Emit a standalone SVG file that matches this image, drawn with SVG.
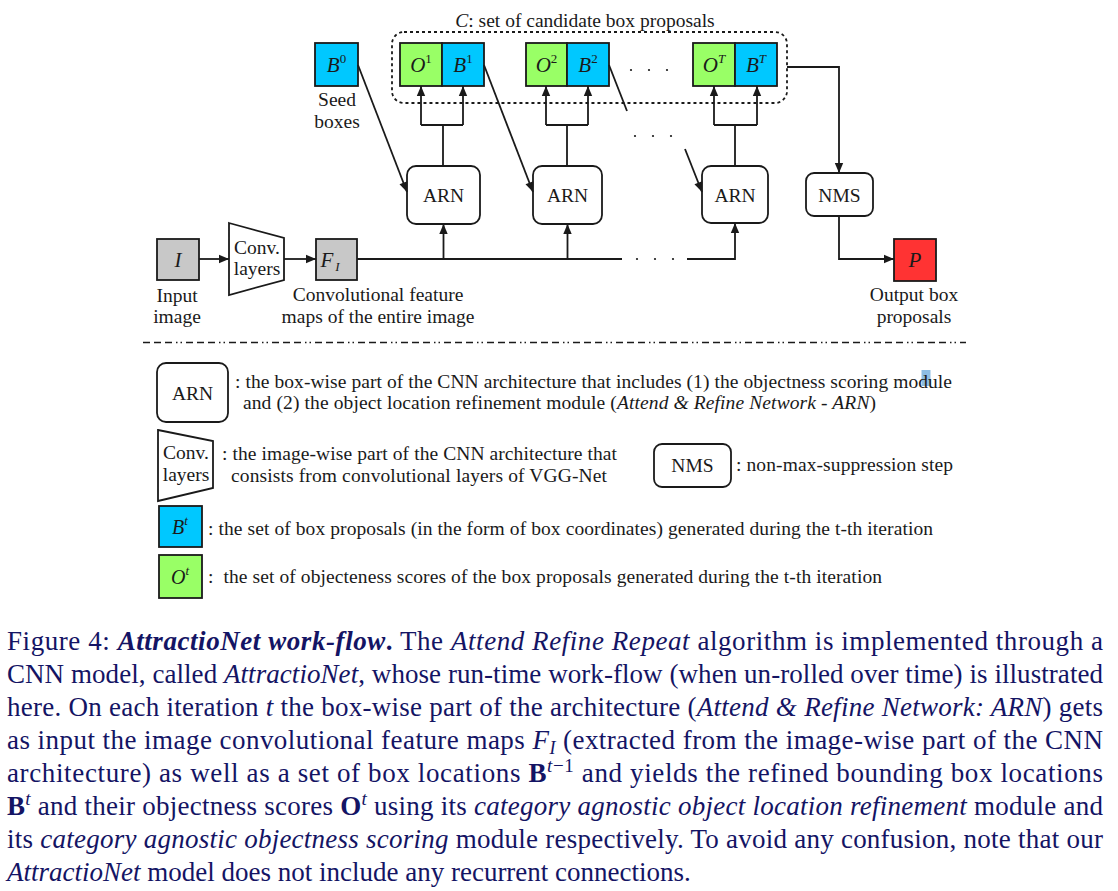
<svg xmlns="http://www.w3.org/2000/svg" width="1118" height="891" viewBox="0 0 1118 891">
<style>
text{font-family:"Liberation Serif","Times New Roman",serif;fill:#1a1a1a}
.lbl{font-size:19.5px}
.c{text-anchor:middle}
.it{font-style:italic}
.box{stroke:#1a1a1a;stroke-width:1.8}
.blue{fill:#00c8ff}
.green{fill:#99ff66}
.gray{fill:#c8c8c8}
.red{fill:#ff3333}
.wh{fill:#ffffff}
.ln{fill:none;stroke:#1a1a1a;stroke-width:1.8}
.cap{font-size:27px;fill:#141464}
.sup{font-size:13px}
</style>
<defs>
<marker id="ah" viewBox="0 0 10 10" refX="10" refY="5" markerWidth="11" markerHeight="10" orient="auto" markerUnits="userSpaceOnUse">
<path d="M0,0.8 L10,5 L0,9.2 z" fill="#1a1a1a"/>
</marker>
</defs>
<rect width="1118" height="891" fill="#ffffff"/>

<g id="candidates">
<rect x="392" y="32" width="395" height="71" rx="12" fill="none" stroke="#1a1a1a" stroke-width="1.8" stroke-dasharray="3 3"/>
<text class="lbl c" x="585" y="27"><tspan class="it">C</tspan>: set of candidate box proposals</text>
</g>

<g id="seed">
<rect class="box blue" x="315" y="43" width="43" height="43"/>
<text class="c" x="336.5" y="72" font-size="21"><tspan class="it">B</tspan><tspan class="sup" dy="-9">0</tspan></text>
<text class="lbl c" x="337" y="106">Seed</text>
<text class="lbl c" x="337" y="128">boxes</text>
</g>

<g id="ob1">
<rect class="box green" x="400" y="43" width="42" height="43"/>
<rect class="box blue" x="442" y="43" width="42" height="43"/>
<text class="c" x="421" y="72" font-size="21"><tspan class="it">O</tspan><tspan class="sup" dy="-9">1</tspan></text>
<text class="c" x="463" y="72" font-size="21"><tspan class="it">B</tspan><tspan class="sup" dy="-9">1</tspan></text>
</g>
<g id="ob2">
<rect class="box green" x="526" y="43" width="41" height="43"/>
<rect class="box blue" x="567" y="43" width="42" height="43"/>
<text class="c" x="546.5" y="72" font-size="21"><tspan class="it">O</tspan><tspan class="sup" dy="-9">2</tspan></text>
<text class="c" x="588" y="72" font-size="21"><tspan class="it">B</tspan><tspan class="sup" dy="-9">2</tspan></text>
</g>
<g id="obT">
<rect class="box green" x="693" y="43" width="42" height="43"/>
<rect class="box blue" x="735" y="43" width="42" height="43"/>
<text class="c" x="714" y="72" font-size="21"><tspan class="it">O</tspan><tspan class="sup it" dy="-9">T</tspan></text>
<text class="c" x="756" y="72" font-size="21"><tspan class="it">B</tspan><tspan class="sup it" dy="-9">T</tspan></text>
</g>

<g id="dots" fill="#1a1a1a">
<circle cx="631" cy="70" r="1.1"/><circle cx="649" cy="70" r="1.1"/><circle cx="667" cy="70" r="1.1"/>
<circle cx="635" cy="136" r="1.1"/><circle cx="653" cy="136" r="1.1"/><circle cx="671" cy="136" r="1.1"/>
<circle cx="637" cy="259" r="1.1"/><circle cx="655" cy="259" r="1.1"/><circle cx="673" cy="259" r="1.1"/>
</g>

<g id="arn1">
<rect class="box wh" x="407" y="166" width="73" height="58" rx="9"/>
<text class="lbl c" x="443.5" y="202">ARN</text>
</g>
<g id="arn2">
<rect class="box wh" x="533" y="166" width="69" height="58" rx="9"/>
<text class="lbl c" x="567.5" y="202">ARN</text>
</g>
<g id="arn3">
<rect class="box wh" x="702" y="166" width="66" height="57" rx="9"/>
<text class="lbl c" x="735" y="202">ARN</text>
</g>
<g id="nms">
<rect class="box wh" x="806" y="173" width="67" height="43" rx="8"/>
<text class="lbl c" x="839.5" y="201.5">NMS</text>
</g>

<g id="input">
<rect class="box gray" x="157" y="239" width="42" height="41"/>
<text class="c it" x="178" y="267" font-size="21">I</text>
<text class="lbl c" x="177" y="302">Input</text>
<text class="lbl c" x="177" y="323">image</text>
</g>
<g id="conv">
<polygon class="box wh" points="229,223 284,238 284,280 229,295"/>
<text class="lbl c" x="257" y="254">Conv.</text>
<text class="lbl c" x="257" y="275">layers</text>
</g>
<g id="feat">
<rect class="box gray" x="316" y="239" width="41" height="41"/>
<text x="330" y="267" font-size="21" class="it c">F<tspan font-size="13" dx="2" dy="4">I</tspan></text>
<text class="lbl c" x="378" y="301">Convolutional feature</text>
<text class="lbl c" x="378" y="323">maps of the entire image</text>
</g>
<g id="output">
<rect class="box red" x="894" y="239" width="42" height="42"/>
<text class="c it" x="915" y="267" font-size="21">P</text>
<text class="lbl c" x="914" y="301">Output box</text>
<text class="lbl c" x="914" y="323">proposals</text>
</g>

<g id="connectors" class="ln">
<path class="ln" d="M199,259 H229" marker-end="url(#ah)"/>
<path class="ln" d="M284,259 H316" marker-end="url(#ah)"/>
<path class="ln" d="M357,259 H622"/>
<path class="ln" d="M687,259 H735 V223" marker-end="url(#ah)"/>
<path class="ln" d="M443.5,259 V224" marker-end="url(#ah)"/>
<path class="ln" d="M567.5,259 V224" marker-end="url(#ah)"/>
<path class="ln" d="M443,166 V125 M421,125 H463"/>
<path class="ln" d="M421,125 V86" marker-end="url(#ah)"/>
<path class="ln" d="M463,125 V86" marker-end="url(#ah)"/>
<path class="ln" d="M567,166 V125 M546,125 H588"/>
<path class="ln" d="M546,125 V86" marker-end="url(#ah)"/>
<path class="ln" d="M588,125 V86" marker-end="url(#ah)"/>
<path class="ln" d="M735,166 V125 M714,125 H757"/>
<path class="ln" d="M714,125 V86" marker-end="url(#ah)"/>
<path class="ln" d="M757,125 V86" marker-end="url(#ah)"/>
<path class="ln" d="M358,65 L407,192" marker-end="url(#ah)"/>
<path class="ln" d="M484,65 L533,192" marker-end="url(#ah)"/>
<path class="ln" d="M609,65 L627,111"/>
<path class="ln" d="M685,149 L702,192" marker-end="url(#ah)"/>
<path class="ln" d="M787,67 H839 V173" marker-end="url(#ah)"/>
<path class="ln" d="M839,216 V259 H894" marker-end="url(#ah)"/>
</g>

<g id="separator">
<line x1="143" y1="342.5" x2="966" y2="342.5" stroke="#1a1a1a" stroke-width="1.5" stroke-dasharray="7 4 7 4 7 4 1.5 3 1.5 4"/>
</g>

<g id="legend-arn">
<rect class="box wh" x="157" y="363" width="71" height="59" rx="9"/>
<text class="lbl c" x="192.5" y="399.5">ARN</text>
<rect x="921.5" y="370" width="9" height="16" fill="#8dbde3"/>
<text class="lbl" x="235" y="388" textLength="717" lengthAdjust="spacing">: the box-wise part of the CNN architecture that includes (1) the objectness scoring module</text>
<text class="lbl" x="243" y="409" textLength="633" lengthAdjust="spacing">and (2) the object location refinement module (<tspan class="it">Attend &amp; Refine Network - ARN</tspan>)</text>
</g>
<g id="legend-conv">
<polygon class="box wh" points="158,430 213,441 213,488 158,501"/>
<text class="lbl c" x="186" y="459">Conv.</text>
<text class="lbl c" x="186" y="481">layers</text>
<text class="lbl" x="222" y="460" textLength="395" lengthAdjust="spacing">: the image-wise part of the CNN architecture that</text>
<text class="lbl" x="231" y="482" textLength="376" lengthAdjust="spacing">consists from convolutional layers of VGG-Net</text>
</g>
<g id="legend-nms">
<rect class="box wh" x="654" y="444" width="77" height="43" rx="8"/>
<text class="lbl c" x="692.5" y="472">NMS</text>
<text class="lbl" x="736" y="471" textLength="217" lengthAdjust="spacing">: non-max-suppression step</text>
</g>
<g id="legend-b">
<rect class="box blue" x="159" y="506" width="43" height="41"/>
<text class="c" x="180" y="534" font-size="20"><tspan class="it">B</tspan><tspan class="sup it" dy="-9">t</tspan></text>
<text class="lbl" x="208" y="535" textLength="725" lengthAdjust="spacing">: the set of box proposals (in the form of box coordinates) generated during the t-th iteration</text>
</g>
<g id="legend-o">
<rect class="box green" x="159" y="555" width="43" height="43"/>
<text class="c" x="180" y="584" font-size="20"><tspan class="it">O</tspan><tspan class="sup it" dy="-9">t</tspan></text>
<text class="lbl" x="208" y="583" textLength="674" lengthAdjust="spacing" xml:space="preserve">:  the set of objecteness scores of the box proposals generated during the t-th iteration</text>
</g>

<g id="caption">
<text class="cap" x="7" y="650" textLength="1096" lengthAdjust="spacing">Figure 4: <tspan font-weight="bold" font-style="italic">AttractioNet work-flow</tspan><tspan font-weight="bold">.</tspan> The <tspan class="it">Attend Refine Repeat</tspan> algorithm is implemented through a</text>
<text class="cap" x="7" y="683" textLength="1096" lengthAdjust="spacing">CNN model, called <tspan class="it">AttractioNet</tspan>, whose run-time work-flow (when un-rolled over time) is illustrated</text>
<text class="cap" x="7" y="716" textLength="1096" lengthAdjust="spacing">here. On each iteration <tspan class="it">t</tspan> the box-wise part of the architecture (<tspan class="it">Attend &amp; Refine Network: ARN</tspan>) gets</text>
<text class="cap" x="7" y="749" textLength="1096" lengthAdjust="spacing">as input the image convolutional feature maps <tspan class="it">F</tspan><tspan class="it" font-size="18" dy="5">I</tspan><tspan dy="-5"> (extracted from the image-wise part of the CNN</tspan></text>
<text class="cap" x="7" y="782" textLength="1096" lengthAdjust="spacing">architecture) as well as a set of box locations <tspan font-weight="bold">B</tspan><tspan font-size="19" dy="-10"><tspan class="it">t</tspan>−1</tspan><tspan dy="10"> and yields the refined bounding box locations</tspan></text>
<text class="cap" x="7" y="815" textLength="1096" lengthAdjust="spacing"><tspan font-weight="bold">B</tspan><tspan class="it" font-size="19" dy="-10">t</tspan><tspan dy="10"> and their objectness scores </tspan><tspan font-weight="bold">O</tspan><tspan class="it" font-size="19" dy="-10">t</tspan><tspan dy="10"> using its </tspan><tspan class="it">category agnostic object location refinement</tspan> module and</text>
<text class="cap" x="7" y="848" textLength="1096" lengthAdjust="spacing">its <tspan class="it">category agnostic objectness scoring</tspan> module respectively. To avoid any confusion, note that our</text>
<text class="cap" x="7" y="881"><tspan class="it">AttractioNet</tspan> model does not include any recurrent connections.</text>
</g>
</svg>
